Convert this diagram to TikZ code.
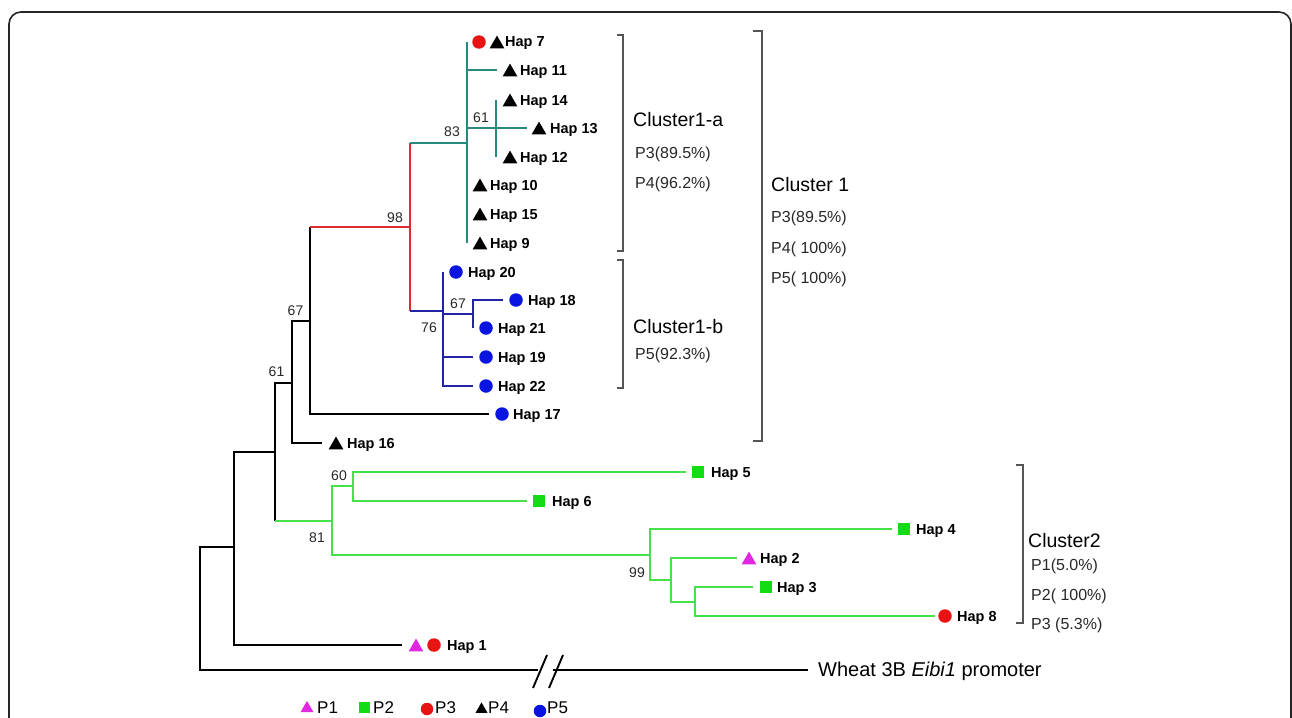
\documentclass[tikz,border=0pt]{standalone}
\usepackage{fontspec}
\setmainfont{Liberation Sans}
\usetikzlibrary{shapes.geometric}
\definecolor{teal1}{RGB}{38,138,128}
\definecolor{redl}{RGB}{220,45,45}
\definecolor{bluel}{RGB}{35,35,165}
\definecolor{greenl}{RGB}{70,225,70}
\definecolor{greenm}{RGB}{20,220,20}
\definecolor{redm}{RGB}{232,20,20}
\definecolor{bluem}{RGB}{10,20,225}
\definecolor{magm}{RGB}{225,40,225}
\definecolor{txtg}{RGB}{40,40,40}
\definecolor{brk}{RGB}{85,85,85}
\begin{document}
\begin{tikzpicture}[x=1pt,y=-1pt,
  branch/.style={line width=1.9pt},
  markTri/.style={regular polygon,regular polygon sides=3,fill=#1,inner sep=0pt,minimum size=17pt,yshift=-2.1pt},
  markTri/.default=black,
  markDot/.style={circle,fill=#1,inner sep=0pt,minimum size=13.5pt},
  markDot/.default=redm,
  markSq/.style={rectangle,fill=#1,inner sep=0pt,minimum size=12pt},
  markSq/.default=greenm,
  haplabel/.style={anchor=base west,inner sep=0pt,font=\bfseries\fontsize{14.5}{16}\selectfont},
  bootlabel/.style={inner sep=0pt,text=txtg,font=\fontsize{14}{16}\selectfont},
  ctitle/.style={anchor=base west,inner sep=0pt,font=\fontsize{19.5}{22}\selectfont},
  cpct/.style={anchor=base west,inner sep=0pt,text=txtg,font=\fontsize{16}{18}\selectfont},
  bracket/.style={line width=1.3pt,draw=brk},
  legtext/.style={anchor=base west,inner sep=0pt,font=\fontsize{17}{19}\selectfont}
]
\useasboundingbox (0,0) rectangle (1292,717);
\clip (0,0) rectangle (1292,717);
\fill[white] (0,0) rectangle (1292,717);
\draw[line width=1.6pt,black!85,rounded corners=12pt] (9,12) rectangle (1291,745);

% internal nodes
\coordinate (root) at (200,608);
\coordinate (a) at (234,547);
\coordinate (b) at (275,452);
\coordinate (c) at (292,383);
\coordinate (d) at (310,321);
\coordinate (e) at (410,227);
\coordinate (f) at (467,143);
\coordinate (g) at (496,128);
\coordinate (h) at (443,311);
\coordinate (i) at (473,314);
\coordinate (g1) at (332,521);
\coordinate (g2) at (353,486);
\coordinate (g3) at (650,555);
\coordinate (g4) at (671,580);
\coordinate (g5) at (695,602);
% branch ends
\coordinate (l7) at (467,42);
\coordinate (l11) at (497,70);
\coordinate (l14) at (496,100);
\coordinate (l13) at (527,128);
\coordinate (l12) at (496,157);
\coordinate (l9) at (467,243);
\coordinate (l20) at (443,272);
\coordinate (l18) at (503,300);
\coordinate (l21) at (473,328);
\coordinate (l19) at (473,357);
\coordinate (l22) at (473,386);
\coordinate (l17) at (489,414);
\coordinate (l16) at (322,443);
\coordinate (l5) at (686,472);
\coordinate (l6) at (527,501);
\coordinate (l4) at (892,529);
\coordinate (l2) at (737,558);
\coordinate (l3) at (753,587);
\coordinate (l8) at (935,616);
\coordinate (l1) at (402,645);
\coordinate (brkL) at (538,670);
\coordinate (brkR) at (553,670);
\coordinate (wh) at (808,670);

% black branches
\draw[branch] (root) |- (a);
\draw[branch] (root) |- (brkL);
\draw[branch] (brkR) -- (wh);
\draw[branch] (a) |- (b);
\draw[branch] (a) |- (l1);
\draw[branch] (b) |- (c);
\draw[branch] (b) -- (b |- g1);
\draw[branch] (c) |- (d);
\draw[branch] (c) |- (l16);
\draw[branch] (d) -- (d |- e);
\draw[branch] (d) |- (l17);
% red
\draw[branch,redl] (d |- e) -- (e);
\draw[branch,redl] (e |- f) -- (e |- h);
% teal
\draw[branch,teal1] (e |- f) -- (f);
\draw[branch,teal1] (f) |- (l7);
\draw[branch,teal1] (f) |- (l9);
\draw[branch,teal1] (f) |- (l11);
\draw[branch,teal1] (f) |- (g) -- (l13);
\draw[branch,teal1] (g) -- (l14);
\draw[branch,teal1] (g) -- (l12);
% blue
\draw[branch,bluel] (e |- h) -- (h);
\draw[branch,bluel] (h) |- (l20);
\draw[branch,bluel] (h) |- (l22);
\draw[branch,bluel] (h) |- (l19);
\draw[branch,bluel] (h) |- (i);
\draw[branch,bluel] (i) |- (l18);
\draw[branch,bluel] (i) |- (l21);
% green
\draw[branch,greenl] (b |- g1) -- (g1);
\draw[branch,greenl] (g1) |- (g2);
\draw[branch,greenl] (g1) |- (g3);
\draw[branch,greenl] (g2) |- (l5);
\draw[branch,greenl] (g2) |- (l6);
\draw[branch,greenl] (g3) |- (l4);
\draw[branch,greenl] (g3) |- (g4);
\draw[branch,greenl] (g4) |- (l2);
\draw[branch,greenl] (g4) |- (g5);
\draw[branch,greenl] (g5) |- (l3);
\draw[branch,greenl] (g5) |- (l8);
% break marks
\draw[branch] (533,688) -- (547,655);
\draw[branch] (549,688) -- (563,655);

% leaves
\node[markDot=redm] (m7a) at (479,42) {};
\node[markTri] (m7b) at (497,42) {};
\node[haplabel] (t7) at (505,47) {Hap 7};
\node[markTri] (m11) at (510,70) {};
\node[haplabel] (t11) at (520,75) {Hap 11};
\node[markTri] (m14) at (510,100) {};
\node[haplabel] (t14) at (520,105) {Hap 14};
\node[markTri] (m13) at (539,128) {};
\node[haplabel] (t13) at (550,133) {Hap 13};
\node[markTri] (m12) at (510,157) {};
\node[haplabel] (t12) at (520,162) {Hap 12};
\node[markTri] (m10) at (480,185) {};
\node[haplabel] (t10) at (490,190) {Hap 10};
\node[markTri] (m15) at (480,214) {};
\node[haplabel] (t15) at (490,219) {Hap 15};
\node[markTri] (m9) at (480,243) {};
\node[haplabel] (t9) at (490,248) {Hap 9};
\node[markDot=bluem] (m20) at (456,272) {};
\node[haplabel] (t20) at (468,277) {Hap 20};
\node[markDot=bluem] (m18) at (516,300) {};
\node[haplabel] (t18) at (528,305) {Hap 18};
\node[markDot=bluem] (m21) at (486,328) {};
\node[haplabel] (t21) at (498,333) {Hap 21};
\node[markDot=bluem] (m19) at (486,357) {};
\node[haplabel] (t19) at (498,362) {Hap 19};
\node[markDot=bluem] (m22) at (486,386) {};
\node[haplabel] (t22) at (498,391) {Hap 22};
\node[markDot=bluem] (m17) at (502,414) {};
\node[haplabel] (t17) at (513,419) {Hap 17};
\node[markTri] (m16) at (336,443) {};
\node[haplabel] (t16) at (347,448) {Hap 16};
\node[markSq] (m5) at (698,472) {};
\node[haplabel] (t5) at (711,477) {Hap 5};
\node[markSq] (m6) at (539,501) {};
\node[haplabel] (t6) at (552,506) {Hap 6};
\node[markSq] (m4) at (904,529) {};
\node[haplabel] (t4) at (916,534) {Hap 4};
\node[markTri=magm] (m2) at (749,558) {};
\node[haplabel] (t2) at (760,563) {Hap 2};
\node[markSq] (m3) at (766,587) {};
\node[haplabel] (t3) at (777,592) {Hap 3};
\node[markDot=redm] (m8) at (945,616) {};
\node[haplabel] (t8) at (957,621) {Hap 8};
\node[markTri=magm] (m1a) at (416,645) {};
\node[markDot=redm] (m1b) at (434,645) {};
\node[haplabel] (t1) at (447,650) {Hap 1};
\node[anchor=base west,inner sep=0pt,font=\fontsize{20}{22}\selectfont] (twh) at (818,676) {Wheat 3B \textit{Eibi1} promoter};

% bootstrap values
\node[bootlabel] (bs83) at (452,132) {83};
\node[bootlabel] (bs61a) at (481,117.5) {61};
\node[bootlabel] (bs98) at (395,217.5) {98};
\node[bootlabel] (bs67a) at (458,304) {67};
\node[bootlabel] (bs76) at (429,328) {76};
\node[bootlabel] (bs67b) at (295.5,311) {67};
\node[bootlabel] (bs61b) at (276.5,372) {61};
\node[bootlabel] (bs60) at (339,476) {60};
\node[bootlabel] (bs81) at (317,538) {81};
\node[bootlabel] (bs99) at (637,573) {99};

% brackets
\draw[bracket] (617,35) -- (623,35) -- (623,251) -- (617,251);
\draw[bracket] (617,260) -- (623,260) -- (623,388) -- (617,388);
\draw[bracket] (753,31) -- (762,31) -- (762,441) -- (753,441);
\draw[bracket] (1016,465) -- (1023,465) -- (1023,623) -- (1016,623);

% cluster texts
\node[ctitle] (c1a) at (633,126) {Cluster1-a};
\node[cpct] (c1ap3) at (635,158) {P3(89.5\%)};
\node[cpct] (c1ap4) at (635,188) {P4(96.2\%)};
\node[ctitle] (c1b) at (633,333) {Cluster1-b};
\node[cpct] (c1bp5) at (635,359) {P5(92.3\%)};
\node[ctitle] (c1) at (771,191) {Cluster 1};
\node[cpct] (c1p3) at (771,222) {P3(89.5\%)};
\node[cpct] (c1p4) at (771,253) {P4( 100\%)};
\node[cpct] (c1p5) at (771,283) {P5( 100\%)};
\node[ctitle] (c2) at (1028,547) {Cluster2};
\node[cpct] (c2p1) at (1031,570) {P1(5.0\%)};
\node[cpct] (c2p2) at (1031,600) {P2( 100\%)};
\node[cpct] (c2p3) at (1031,629) {P3 (5.3\%)};

% legend
\node[markTri=magm,minimum size=15pt,yshift=0.2pt] (lg1) at (307,706.5) {};
\node[legtext] (lt1) at (317,713) {P1};
\node[markSq,minimum size=11pt] (lg2) at (364,707) {};
\node[legtext] (lt2) at (373,713) {P2};
\node[markDot=redm,minimum size=12.5pt] (lg3) at (427,709) {};
\node[legtext] (lt3) at (435,713) {P3};
\node[markTri,minimum size=14pt,yshift=0.2pt] (lg4) at (481.5,707.5) {};
\node[legtext] (lt4) at (488,713) {P4};
\node[markDot=bluem,minimum size=12.5pt] (lg5) at (540,711) {};
\node[legtext] (lt5) at (547,713) {P5};
\end{tikzpicture}
\end{document}
